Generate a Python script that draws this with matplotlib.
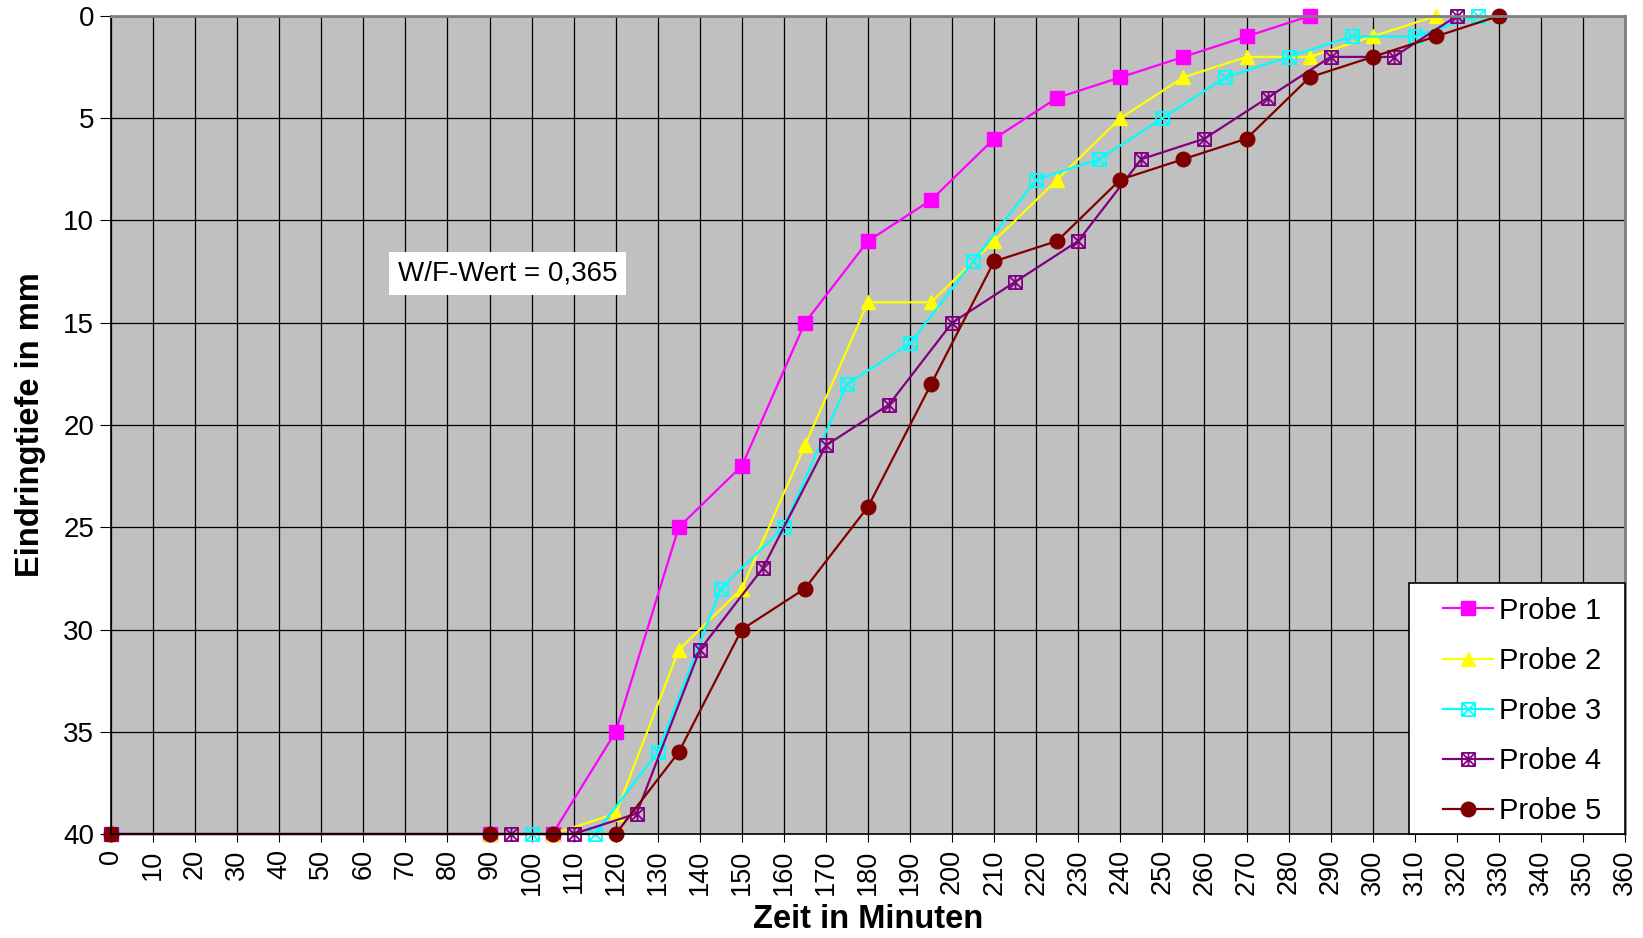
import numpy as np
import matplotlib
matplotlib.use("Agg")
import matplotlib.pyplot as plt
from matplotlib.path import Path
from matplotlib.patches import Rectangle

plt.rcParams['font.family'] = ['Liberation Sans', 'DejaVu Sans']

labels = ["Probe 1", "Probe 2", "Probe 3", "Probe 4", "Probe 5"]

zeit_1 = [0, 90, 105, 120, 135, 150, 165, 180, 195, 210, 225, 240, 255, 270, 285]
tiefe_1 = [40, 40, 40, 35, 25, 22, 15, 11, 9, 6, 4, 3, 2, 1, 0]

zeit_2 = [0, 90, 105, 120, 135, 150, 165, 180, 195, 210, 225, 240, 255, 270, 285, 300, 315]
tiefe_2 = [40, 40, 40, 39, 31, 28, 21, 14, 14, 11, 8, 5, 3, 2, 2, 1, 0]

zeit_3 = [0, 100, 115, 130, 145, 160, 175, 190, 205, 220, 235, 250, 265, 280, 295, 310, 325]
tiefe_3 = [40, 40, 40, 36, 28, 25, 18, 16, 12, 8, 7, 5, 3, 2, 1, 1, 0]

zeit_4 = [0, 95, 110, 125, 140, 155, 170, 185, 200, 215, 230, 245, 260, 275, 290, 305, 320]
tiefe_4 = [40, 40, 40, 39, 31, 27, 21, 19, 15, 13, 11, 7, 6, 4, 2, 2, 0]

zeit_5 = [0, 90, 105, 120, 135, 150, 165, 180, 195, 210, 225, 240, 255, 270, 285, 300, 315, 330]
tiefe_5 = [40, 40, 40, 40, 36, 30, 28, 24, 18, 12, 11, 8, 7, 6, 3, 2, 1, 0]

# square with an X, and square with X plus vertical bar
M, L, C = Path.MOVETO, Path.LINETO, Path.CLOSEPOLY
box_x = Path([(-1, -1), (1, -1), (1, 1), (-1, 1), (-1, -1),
              (-1, -1), (1, 1), (-1, 1), (1, -1)],
             [M, L, L, L, C, M, L, M, L])
box_star = Path([(-1, -1), (1, -1), (1, 1), (-1, 1), (-1, -1),
                 (-1, -1), (1, 1), (-1, 1), (1, -1), (0, -1), (0, 1)],
                [M, L, L, L, C, M, L, M, L, M, L])

fig = plt.figure(figsize=(16.43, 9.38), dpi=100)
ax = fig.add_axes([111 / 1643, 1 - 834 / 938, 1514 / 1643, 818 / 938])
ax.set_facecolor('#C0C0C0')

ax.plot(zeit_1, tiefe_1, color='#FF00FF', lw=1.6, marker='s', ms=9.5,
        label=labels[0], clip_on=False)
ax.plot(zeit_2, tiefe_2, color='#FFFF00', lw=1.6, marker='^', ms=10.5,
        label=labels[1], clip_on=False)
ax.plot(zeit_3, tiefe_3, color='#00FFFF', lw=1.6, marker=box_x, ms=9.5,
        mfc='none', mew=1.3, label=labels[2], clip_on=False)
ax.plot(zeit_4, tiefe_4, color='#800080', lw=1.6, marker=box_star, ms=9.5,
        mfc='none', mew=1.3, label=labels[3], clip_on=False)
ax.plot(zeit_5, tiefe_5, color='#800000', lw=1.6, marker='o', ms=10.5,
        label=labels[4], clip_on=False)

ax.set_xlim(0, 360)
ax.set_ylim(40, 0)
ax.set_xticks(np.arange(0, 361, 10))
ax.set_yticks(np.arange(0, 41, 5))
ax.tick_params(axis='x', labelsize=19.5, rotation=90, length=6, direction='out', pad=5)
ax.tick_params(axis='y', labelsize=20, length=8, direction='out', pad=4)
ax.grid(True, color='black', lw=0.9)
ax.set_axisbelow(True)

for side in ['left', 'bottom']:
    ax.spines[side].set_color('black')
    ax.spines[side].set_linewidth(1.2)
for side in ['top', 'right']:
    ax.spines[side].set_color('#808080')
    ax.spines[side].set_linewidth(2)

ax.set_xlabel("Zeit in Minuten", fontsize=23.5, fontweight='bold', va='center')
ax.xaxis.set_label_coords(0.5, -0.105)
ax.set_ylabel("Eindringtiefe in mm", fontsize=23.5, fontweight='bold', va='center')
ax.yaxis.set_label_coords(-0.0535, 0.5)

ax.text(68.2, 12.6, "W/F-Wert = 0,365", fontsize=20, ha='left', va='center',
        bbox=dict(facecolor='white', edgecolor='none', pad=6))

# legend box drawn separately (wider side padding than top/bottom)
box = Rectangle((0.8573, 0.0), 0.1427, 0.3068, transform=ax.transAxes,
                facecolor='white', edgecolor='black', lw=1.2, zorder=5, clip_on=False)
ax.add_patch(box)
leg = ax.legend(loc='center', bbox_to_anchor=(0.8573 + 0.1427 / 2 + 0.0035, 0.3068 / 2 - 0.003),
                fontsize=21, frameon=False, labelspacing=0.76,
                handlelength=1.7, borderpad=0.2, handletextpad=0.2)
leg.set_zorder(6)

plt.savefig('out.png', dpi=100)
